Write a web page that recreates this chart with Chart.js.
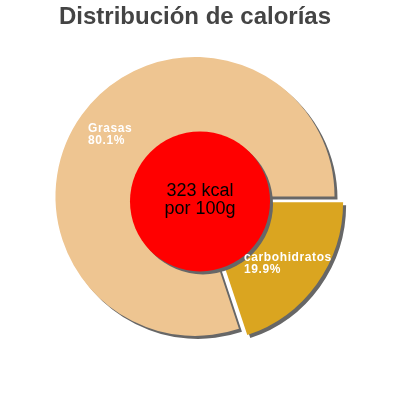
<!DOCTYPE html>
<html>
<head>
<meta charset="utf-8">
<script src="https://cdn.jsdelivr.net/npm/chart.js@4"></script>
<style>
  html, body { margin: 0; padding: 0; background: #fff; }
</style>
</head>
<body>
<canvas id="kcal" width="400" height="400"></canvas>
<script>
const labels = ['carbohidratos', 'Grasas'];
const percents = [19.9, 80.1];
const colors = ['#DAA520', '#EEC591'];
const explode = [40, 0]; // chart.js moves an arc by offset / 4
const centerLines = ['323 kcal', 'por 100g'];

function setShadow(chart, ctx) {
    const dpr = chart.currentDevicePixelRatio || 1;
    ctx.shadowColor = '#676767';
    ctx.shadowBlur = 0;
    ctx.shadowOffsetX = 3 * dpr;
    ctx.shadowOffsetY = 3 * dpr;
}

const shadowPlugin = {
    id: 'shadow',
    beforeDatasetsDraw(chart) {
        chart.ctx.save();
        setShadow(chart, chart.ctx);
    },
    afterDatasetsDraw(chart) {
        chart.ctx.restore();
    }
};

const centerPlugin = {
    id: 'center',
    afterDatasetsDraw(chart) {
        const ctx = chart.ctx;
        const arcs = chart.getDatasetMeta(0).data;
        const cx = arcs[0].x, cy = arcs[0].y;

        // red disc with the energy value
        ctx.save();
        setShadow(chart, ctx);
        ctx.beginPath();
        ctx.arc(cx + 5, cy + 5, 70, 0, Math.PI * 2);
        ctx.fillStyle = '#FF0000';
        ctx.fill();
        ctx.restore();

        ctx.save();
        ctx.fillStyle = '#000';
        ctx.font = '18px "Liberation Sans", Arial, sans-serif';
        ctx.textAlign = 'center';
        ctx.textBaseline = 'alphabetic';
        ctx.fillText(centerLines[0], cx + 5, cy);
        ctx.fillText(centerLines[1], cx + 5, cy + 18);
        ctx.restore();

        // slice labels
        ctx.save();
        ctx.fillStyle = '#fff';
        ctx.font = 'bold 12px "Liberation Sans", Arial, sans-serif';
        ctx.letterSpacing = '0.6px';
        ctx.textAlign = 'left';
        ctx.textBaseline = 'middle';
        arcs.forEach((arc, i) => {
            const mid = (arc.startAngle + arc.endAngle) / 2;
            const r = (arc.options.offset || 0) / 4 + arc.outerRadius * 0.75;
            const lx = arc.x + Math.cos(mid) * r;
            const ly = arc.y + Math.sin(mid) * r;
            const lines = [labels[i], percents[i].toFixed(1) + '%'];
            const w = Math.max(...lines.map(t => ctx.measureText(t).width));
            ctx.fillText(lines[0], lx - w / 2, ly - 6);
            ctx.fillText(lines[1], lx - w / 2, ly + 6);
        });
        ctx.restore();
    }
};

new Chart(document.getElementById('kcal'), {
    type: 'pie',
    data: {
        labels: labels,
        datasets: [{
            data: percents,
            backgroundColor: colors,
            borderWidth: 0,
            offset: explode,
            hoverOffset: 0
        }]
    },
    options: {
        responsive: false,
        animation: false,
        events: [],
        rotation: 90,
        radius: 139.5,
        layout: { padding: { left: 0, right: 10, top: 0, bottom: 48 } },
        plugins: {
            legend: { display: false },
            tooltip: { enabled: false },
            title: {
                display: true,
                text: 'Distribución de calorías',
                color: '#444',
                font: { family: '"Liberation Sans", Arial, sans-serif', size: 24, weight: 'bold', lineHeight: 1.2 },
                padding: { top: 3, bottom: 9 }
            }
        }
    },
    plugins: [shadowPlugin, centerPlugin]
});
</script>
</body>
</html>
